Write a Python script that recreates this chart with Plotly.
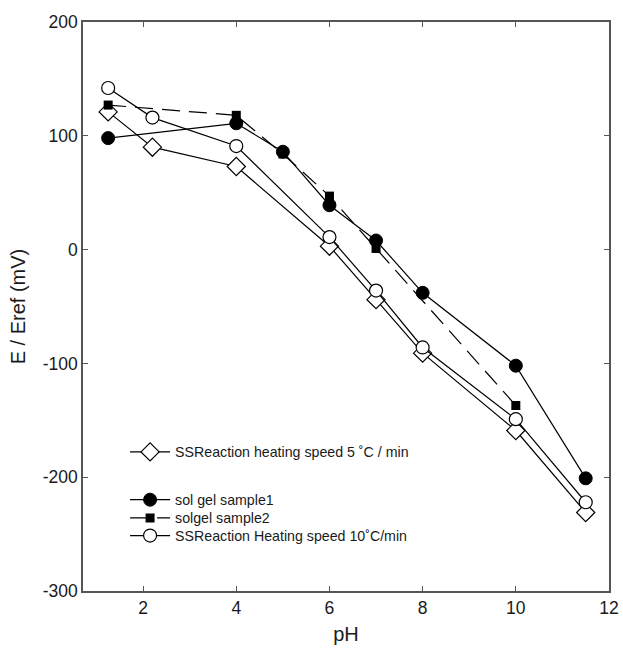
import plotly.graph_objects as go

# Data
ph_ss5 = [1.25, 2.2, 4, 6, 7, 8, 10, 11.5]
e_ss5 = [121, 90, 73, 3, -44, -91, -159, -231]

ph_sg1 = [1.25, 4, 5, 6, 7, 8, 10, 11.5]
e_sg1 = [98, 111, 86, 39, 8, -38, -102, -201]

ph_sg2 = [1.25, 4, 5, 6, 7, 10]
e_sg2 = [127, 118, 84, 47, 1, -137]

ph_ss10 = [1.25, 2.2, 4, 6, 7, 8, 10, 11.5]
e_ss10 = [142, 116, 91, 11, -36, -86, -149, -222]

x_ticks = [2, 4, 6, 8, 10, 12]
y_ticks = [200, 100, 0, -100, -200, -300]
y_tick_text = ["200", "100", "0", "-100", "-200", "-300"]

names = {
    "ss5": "SSReaction heating speed 5 ˚C / min",
    "sg1": "sol gel sample1",
    "sg2": "solgel sample2",
    "ss10": "SSReaction Heating speed 10˚C/min",
}

line_style = dict(color="black", width=1.2)
fig = go.Figure()

fig.add_trace(go.Scatter(
    x=ph_ss5, y=e_ss5, mode="lines+markers", name=names["ss5"],
    line=line_style,
    marker=dict(symbol="diamond", size=14, color="white", line=dict(color="black", width=1.2)),
    legend="legend",
))
fig.add_trace(go.Scatter(
    x=ph_sg1, y=e_sg1, mode="lines+markers", name=names["sg1"],
    line=line_style,
    marker=dict(symbol="circle", size=13, color="black", line=dict(color="black", width=1)),
    legend="legend2",
))
fig.add_trace(go.Scatter(
    x=ph_sg2, y=e_sg2, mode="lines+markers", name=names["sg2"],
    line=dict(color="black", width=1.2, dash="18px,9px"),
    marker=dict(symbol="square", size=9, color="black"),
    legend="legend3",
))
fig.add_trace(go.Scatter(
    x=ph_ss10, y=e_ss10, mode="lines+markers", name=names["ss10"],
    line=line_style,
    marker=dict(symbol="circle", size=13, color="white", line=dict(color="black", width=1.2)),
    legend="legend4",
))

font_family = "Liberation Sans, Arial, sans-serif"
axis_common = dict(
    showline=True, linecolor="#555", linewidth=1.5, mirror="ticks",
    ticks="inside", ticklen=5, tickcolor="#555", tickwidth=1.2,
    showgrid=False, zeroline=False, automargin=False,
    tickfont=dict(family=font_family, size=17.5, color="#1a1a1a"),
)

def leg(y):
    return dict(x=0.08, y=y, xanchor="left", yanchor="middle",
                bgcolor="rgba(0,0,0,0)", borderwidth=0,
                font=dict(family=font_family, size=14.2, color="#1a1a1a"),
                itemwidth=40, tracegroupgap=0)

fig.update_layout(
    width=623, height=649,
    margin=dict(l=83, r=14, t=22, b=58),
    plot_bgcolor="white", paper_bgcolor="white",
    font=dict(family=font_family, color="#1a1a1a"),
    xaxis=dict(range=[0.71, 12], tickvals=x_ticks,
               title=dict(text="pH", font=dict(family=font_family, size=20, color="#1a1a1a"), standoff=10),
               **axis_common),
    yaxis=dict(range=[-300, 200], tickvals=y_ticks, ticktext=y_tick_text,
               title=dict(text="E / Eref (mV)", font=dict(family=font_family, size=20, color="#1a1a1a"), standoff=12),
               **axis_common),
    legend=leg(0.244),
    legend2=leg(0.160),
    legend3=leg(0.128),
    legend4=leg(0.097),
    showlegend=True,
)

fig.write_html(
    "out.html",
    config={"displayModeBar": False},
    post_script="document.body.style.margin='0';document.body.style.padding='0';",
)
